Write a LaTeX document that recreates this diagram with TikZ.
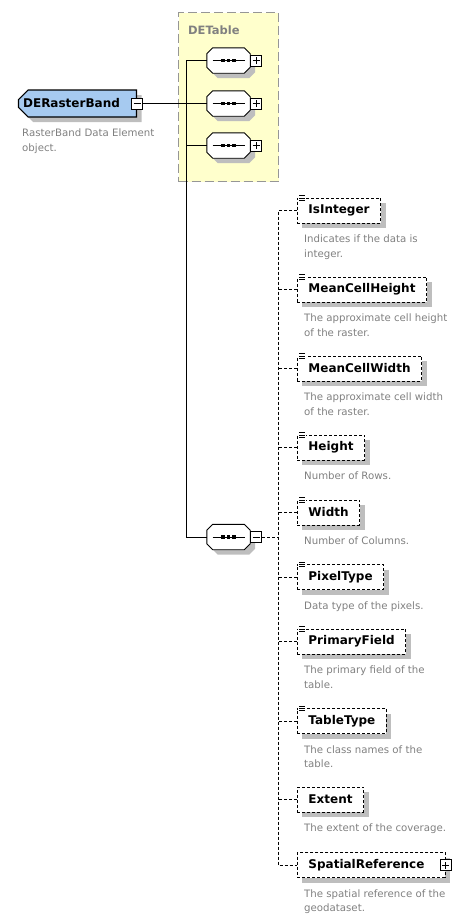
\documentclass[tikz,border=0pt]{standalone}
\usepackage{fontspec}
\setmainfont{DejaVu Sans}
\usetikzlibrary{shapes.misc,shadows}

\definecolor{bandblue}{RGB}{166,202,240}
\definecolor{groupfill}{RGB}{255,255,204}
\definecolor{groupedge}{RGB}{150,150,150}
\definecolor{shadowgray}{RGB}{190,190,190}
\definecolor{descgray}{RGB}{128,128,128}

% octagonal outline around a rectangular node
\newcommand{\octoutline}[1]{%
  ([xshift=6pt]#1.north west) -- ([xshift=-6pt]#1.north east) --
  ([yshift=-6pt]#1.north east) -- ([yshift=6pt]#1.south east) --
  ([xshift=-6pt]#1.south east) -- ([xshift=6pt]#1.south west) --
  ([yshift=6pt]#1.south west) -- ([yshift=-6pt]#1.north west) -- cycle}

\tikzset{
  boxshadow/.style={general shadow={fill=shadowgray, shadow xshift=5pt, shadow yshift=-5pt}},
  labelfont/.style={font=\fontsize{12}{14}\selectfont\bfseries},
  rootbox/.style={chamfered rectangle,
    chamfered rectangle corners={north west,south west},
    chamfered rectangle xsep=5pt, chamfered rectangle ysep=5pt,
    draw, line width=1.1pt, fill=bandblue, boxshadow, labelfont,
    minimum height=27pt, inner xsep=0pt, inner ysep=0pt},
  seqbox/.style={rectangle, draw=none, minimum width=43pt, minimum height=25pt, inner sep=0pt},
  seqshape/.style={draw, line width=0.9pt, fill=white},
  seqshadow/.style={fill=shadowgray, transform canvas={shift={(5pt,-5pt)}}},
  pmbox/.style={rectangle, draw, line width=0.8pt, fill=white, minimum size=11pt, inner sep=0pt},
  plusbox/.style={pmbox, path picture={
      \draw[black, line width=0.8pt] ([xshift=-3.5pt]path picture bounding box.center) -- ([xshift=3.5pt]path picture bounding box.center);
      \draw[black, line width=0.8pt] ([yshift=-3.5pt]path picture bounding box.center) -- ([yshift=3.5pt]path picture bounding box.center);}},
  minusbox/.style={pmbox, path picture={
      \draw[black, line width=0.8pt] ([xshift=-3.5pt]path picture bounding box.center) -- ([xshift=3.5pt]path picture bounding box.center);}},
  elembox/.style={rectangle, draw, line width=0.9pt, dash pattern=on 3pt off 2pt,
    fill=white, boxshadow, labelfont,
    minimum height=25pt, inner xsep=11pt, inner ysep=0pt, anchor=west},
  desctext/.style={anchor=north west, inner sep=0pt, align=left, text=descgray,
    font=\fontsize{10.2}{14.5}\selectfont},
  treeline/.style={line width=1pt},
  optline/.style={line width=1pt, dash pattern=on 3pt off 2pt},
  groupbox/.style={draw=groupedge, fill=groupfill, line width=1pt,
    dash pattern=on 9pt off 4pt, anchor=north west, inner sep=0pt},
}

\begin{document}
\begin{tikzpicture}[x=1pt, y=-1pt]
\useasboundingbox (0,0) rectangle (453,916);

% group of the three inherited sequences
\node[groupbox, minimum width=100pt, minimum height=169pt] (detable) at (178,12) {};
\node[anchor=west, inner sep=0pt, text=descgray,
      font=\fontsize{11.5}{13}\selectfont\bfseries] (detablelabel) at (188,30) {DETable};

% root element
\node[rootbox] (band) at (77.5,103.5) {DERasterBand\hspace*{12pt}};
\node[minusbox] (bandm) at (band.east) {};
\node[desctext] (banddesc) at (22,129) {RasterBand Data Element\\object.};

% sequence compositors
\node[seqbox] (s1) at (228.5,60.5) {};
\node[seqbox] (s2) at (228.5,103.5) {};
\node[seqbox] (s3) at (228.5,145.5) {};
\node[seqbox] (s4) at (228.5,537) {};
\foreach \s in {s1,s2,s3,s4}{
  \fill[seqshadow] \octoutline{\s};
  \filldraw[seqshape] \octoutline{\s};
  \draw[line width=0.9pt] ([xshift=-16pt]\s.center) -- ([xshift=16pt]\s.center);
  \foreach \dx in {-5.5,0,5.5}
    \fill ([xshift=\dx pt]\s.center) +(-1.8pt,-1.8pt) rectangle +(1.8pt,1.8pt);
}
\node[plusbox, anchor=west] (s1p) at (s1.east) {};
\node[plusbox, anchor=west] (s2p) at (s2.east) {};
\node[plusbox, anchor=west] (s3p) at (s3.east) {};
\node[minusbox, anchor=west] (s4m) at (s4.east) {};

% solid tree
\draw[treeline] (bandm.east) -- (s2.west);
\draw[treeline] (s1.west) -- ++(-20,0) |- (s4.west);
\draw[treeline] (s3.west) -- ++(-20,0);

% optional child elements
\foreach \n/\lab/\yy/\txt in {
  isint/IsInteger/210.5/{Indicates if the data is\\integer.},
  mch/MeanCellHeight/289.5/{The approximate cell height\\of the raster.},
  mcw/MeanCellWidth/368.5/{The approximate cell width\\of the raster.},
  hgt/Height/447.5/{Number of Rows.},
  wid/Width/512.5/{Number of Columns.},
  pxt/PixelType/577/{Data type of the pixels.},
  pfd/PrimaryField/641.5/{The primary field of the\\table.},
  ttp/TableType/721/{The class names of the\\table.},
  ext/Extent/799.5/{The extent of the coverage.}}
{
  \node[elembox] (\n) at (297,\yy) {\lab};
  \node[desctext] (\n-d) at (304,\yy+24.5) {\txt};
}
\node[elembox] (spr) at (297,865) {SpatialReference\hspace*{10pt}};
\node[plusbox] (sprp) at (spr.east) {};
\node[desctext] (spr-d) at (304,889.5) {The spatial reference of the\\geodataset.};

% simple-content markers
\foreach \n in {isint,mch,mcw,hgt,wid,pxt,pfd,ttp}{
  \fill[white] ([xshift=0.6pt,yshift=3pt]\n.north west) rectangle ([xshift=9pt,yshift=-4.5pt]\n.north west);
  \foreach \k in {0,1,2}
    \draw[line width=0.8pt] ([xshift=2pt,yshift={2pt-\k*2.4pt}]\n.north west) -- ++(6pt,0pt);
}

% dashed tree
\draw[optline] (s4m.east) -- ++(16,0);
\draw[optline] (isint.west) -- ++(-19,0) |- (spr.west);
\foreach \n in {mch,mcw,hgt,wid,pxt,pfd,ttp,ext}
  \draw[optline] (\n.west) -- ++(-19,0);

\end{tikzpicture}
\end{document}
